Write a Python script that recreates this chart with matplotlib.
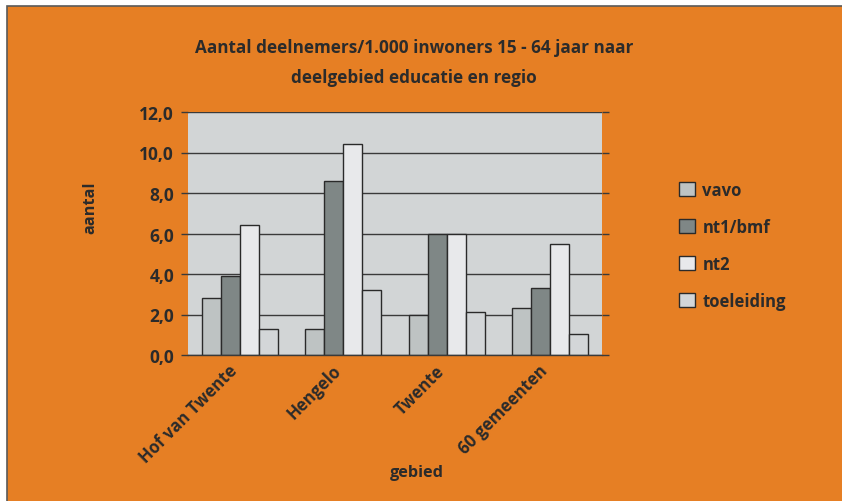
import matplotlib
matplotlib.use("Agg")
import matplotlib.pyplot as plt
import matplotlib.transforms as mtransforms
import numpy as np
from matplotlib.patches import Rectangle
from matplotlib.ticker import FuncFormatter

# data
regions = ["Hof van Twente", "Hengelo", "Twente", "60 gemeenten"]
vavo = [2.8, 1.3, 2.0, 2.3]
nt1_bmf = [3.9, 8.6, 6.0, 3.3]
nt2 = [6.4, 10.4, 6.0, 5.5]
toeleiding = [1.3, 3.2, 2.1, 1.05]

series_names = ["vavo", "nt1/bmf", "nt2", "toeleiding"]
series_colors = ["#bec3c3", "#7f8786", "#e8e9eb", "#d3d6d8"]

orange = "#e67f24"
ink = "#2b2b2b"
plt.rcParams["font.family"] = ["Open Sans", "DejaVu Sans"]
plt.rcParams["font.weight"] = "bold"

fig = plt.figure(figsize=(8.42, 5.02), dpi=100)
fig.patch.set_facecolor("white")
# orange panel with a thin dark edge at left/top
fig.patches.append(Rectangle((7 / 842, -0.05), 1, (502 - 7) / 502 + 0.05, transform=fig.transFigure,
                             facecolor=orange, edgecolor="#5a5a5a", linewidth=1.2, zorder=-10))

ax = fig.add_axes([188 / 842, 1 - 356 / 502, 414 / 842, 243 / 502])
ax.set_zorder(2)
ax.set_facecolor("#d2d5d6")

x = np.arange(len(regions))
w = 0.184
all_series = [vavo, nt1_bmf, nt2, toeleiding]
for i, (vals, name, col) in enumerate(zip(all_series, series_names, series_colors)):
    ax.bar(x + (i - 1.5) * w, vals, w, color=col, edgecolor="#2a2a2a", linewidth=1.0,
           label=name, zorder=3)

ax.set_xlim(-0.5, len(regions) - 0.5)
ax.set_ylim(0, 12)
ax.set_yticks(np.arange(0, 12.1, 2))
ax.yaxis.set_major_formatter(FuncFormatter(lambda v, p: f"{v:.1f}".replace(".", ",")))
ax.grid(axis="y", color="#3a3a3a", linewidth=1.0, zorder=1)
ax.set_axisbelow(True)
for s in ax.spines.values():
    s.set_visible(False)
ax.tick_params(axis="y", left=True, right=True, labelright=False, length=5, width=1.0,
               color="#3a3a3a", labelsize=12.5, labelcolor=ink, pad=5)
ax.tick_params(axis="x", length=0, labelsize=12, labelcolor=ink, pad=9)
ax.set_xticks(x)
ax.set_xticklabels(regions, rotation=45, ha="right", va="center", rotation_mode="anchor")
shift = mtransforms.ScaledTranslation(-5 / 100, 0, fig.dpi_scale_trans)
for lab in ax.get_xticklabels():
    lab.set_transform(lab.get_transform() + shift)
ax.axhline(0, color="#3a3a3a", linewidth=1.0, zorder=4, clip_on=False)

fig.text(414 / 842, 1 - 48 / 502, "Aantal deelnemers/1.000 inwoners 15 - 64 jaar naar",
         ha="center", va="center", fontsize=12.3, color=ink, fontweight="bold")
fig.text(414 / 842, 1 - 78 / 502, "deelgebied educatie en regio",
         ha="center", va="center", fontsize=12.3, color=ink, fontweight="bold")
fig.text(90 / 842, 1 - 208 / 502, "aantal", rotation=90, ha="center", va="center",
         fontsize=11.7, color=ink, fontweight="bold")
fig.text(417 / 842, 1 - 473 / 502, "gebied", ha="center", va="center",
         fontsize=11.7, color=ink, fontweight="bold")

fig.legend(loc="upper left", bbox_to_anchor=(664 / 842, 1 - 167 / 502), frameon=False,
           fontsize=12, labelcolor=ink, handlelength=0.95, handleheight=0.95,
           labelspacing=1.14, handletextpad=0.45)

fig.savefig("out.png", dpi=100, facecolor=fig.get_facecolor())
